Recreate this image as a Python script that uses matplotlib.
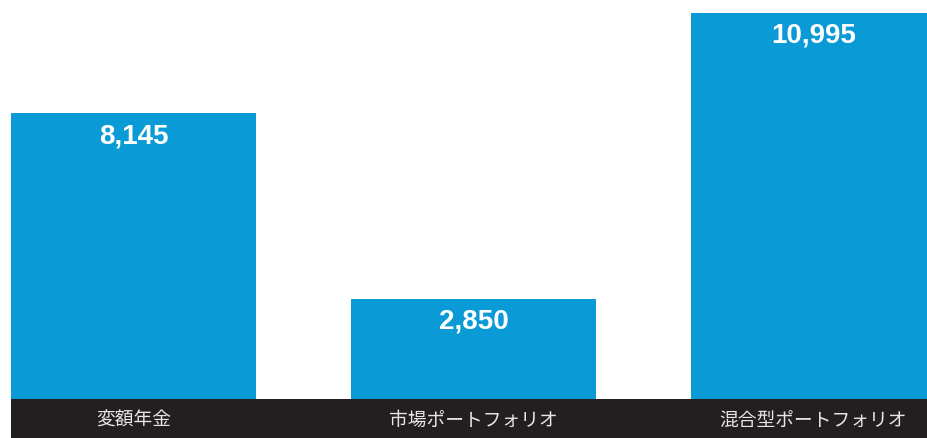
import matplotlib.pyplot as plt
from matplotlib.patches import Rectangle

categories = ['変額年金', '市場ポートフォリオ', '混合型ポートフォリオ']
values = [8145, 2850, 10995]
value_labels = ['8,145', '2,850', '10,995']

W, H = 927, 438
fig = plt.figure(figsize=(W / 100, H / 100), dpi=100)

# main axes: from x=11px to right edge, bottom at the dark band (y=399px)
ax = fig.add_axes([11 / W, 39 / H, 916 / W, 399 / H])
x = list(range(len(values)))
width = 245 / 340
ax.bar(x, values, width=width, color='#0a9ad6')
ax.set_xlim(-width / 2, (927 - 133.5) / 340)
ax.set_ylim(0, 399 / (386 / 10995))
ax.axis('off')

for xi, v, lab in zip(x, values, value_labels):
    ax.annotate(lab, (xi, v), xytext=(0, -23), textcoords='offset pixels',
                ha='center', va='center', color='white', fontsize=20,
                fontweight='bold', family='Liberation Sans')

# dark band with category labels
band = fig.add_axes([11 / W, 0, 916 / W, 39 / H])
band.set_xlim(ax.get_xlim())
band.set_ylim(0, 1)
band.add_patch(Rectangle((-10, 0), 20, 1, color='#231f20'))
band.axis('off')
for xi, c in zip(x, categories):
    band.text(xi, 0.46, c, ha='center', va='center', color='#e6e6e6',
              fontsize=13.5, family=['Noto Sans CJK JP', 'DejaVu Sans'])

fig.savefig('out.png', dpi=100)
